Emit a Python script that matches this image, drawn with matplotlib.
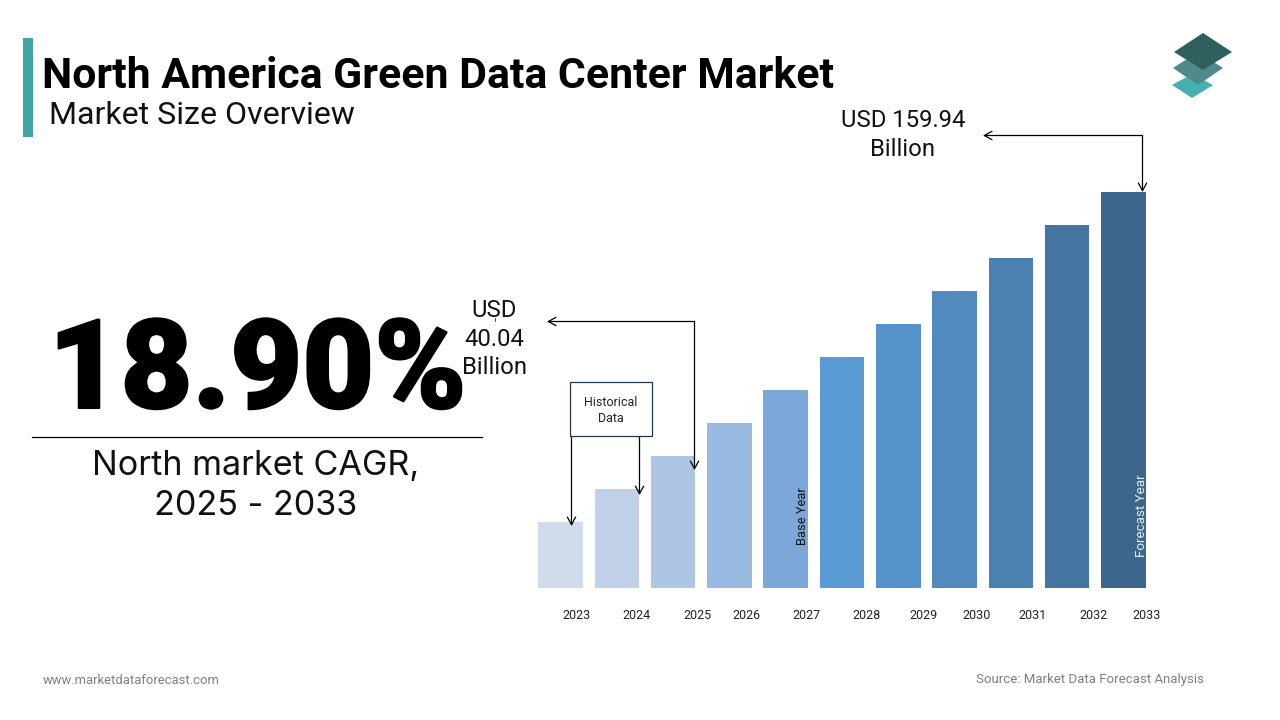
import matplotlib
matplotlib.use("Agg")
import matplotlib.pyplot as plt
import matplotlib.patheffects as pe
from matplotlib.patches import Polygon, Rectangle

W, H = 1280, 720
years = ["2023","2024","2025","2026","2027","2028","2029","2030","2031","2032","2033"]
# bar heights (the drawing is schematic, not to value scale)
bar_heights = [66, 99, 132, 165, 198, 231, 264, 297, 330, 363, 396]
bar_colors = ["#d0dcec","#bfd0e8","#adc6e3","#99bae0","#7ba8d8","#5b9bd5","#5793cb","#518bbd","#4b81b0","#4474a0","#3c668c"]
# the reference's year labels sit off-centre from their bars
tick_offsets = [0.293, 0.355, 0.431, 0.311, 0.373, 0.444, 0.44, 0.400, 0.391, 0.465, 0.417]

title = "North America Green Data Center Market"
subtitle = "Market Size Overview"
cagr = "18.90%"
cagr_label = "North market CAGR,\n2025 - 2033"
label_start = "USD\n40.04\nBillion"
label_end = "USD 159.94\nBillion"
FONT = "Roboto"
plt.rcParams["font.family"] = [FONT, "DejaVu Sans"]

fig = plt.figure(figsize=(W/100, H/100), dpi=100, facecolor="white")

# overlay in pixel coordinates
ov = fig.add_axes([0, 0, 1, 1], zorder=3)
ov.set_xlim(0, W); ov.set_ylim(H, 0); ov.axis("off"); ov.patch.set_alpha(0)

# bars
left_px, right_px, top_px, bottom_px = 532.35, 1151.65, 192, 588
ax = fig.add_axes([left_px/W, 1-bottom_px/H, (right_px-left_px)/W, (bottom_px-top_px)/H], zorder=1)
x = list(range(len(years)))
ax.bar(x, bar_heights, width=0.79, color=bar_colors, linewidth=0)
ax.set_xlim(-0.5, 10.5); ax.set_ylim(0, 396)
ax.set_xticks([i + o for i, o in zip(x, tick_offsets)])
ax.set_xticklabels(years, fontsize=9, color="#222222")
ax.tick_params(axis="x", length=0, pad=15)
ax.set_yticks([])
for s in ax.spines.values():
    s.set_visible(False)

# accent and headings
ov.add_patch(Rectangle((23, 38), 10, 99, color="#3fa6a6", lw=0))
ov.text(42, 77, title, fontsize=30.8, fontweight="bold", color="black", va="center", ha="left")
ov.text(49, 115, subtitle, fontsize=23.1, color="#111111", va="center", ha="left")

# logo
ov.add_patch(Polygon([(1192,74),(1213,85),(1192,98),(1172,85)], color="#45b0b0", lw=0))
ov.add_patch(Polygon([(1198,52),(1223,68),(1198,85),(1173,68)], color="#4f8a8b", lw=0))
ov.add_patch(Polygon([(1203,33),(1232,52),(1203,70),(1174,52)], color="#2f5f5f", lw=0))

# CAGR block
ov.text(257.5, 374, cagr, fontsize=89.5, fontweight="black", color="black", va="center", ha="center",
        path_effects=[pe.withStroke(linewidth=1.5, foreground="black")])
ov.plot([32, 482], [436.5, 436.5], color="black", lw=0.9)
ov.text(256, 486, cagr_label, fontsize=24.6, family=["Inter", "DejaVu Sans"], color="#111111", va="center", ha="center", linespacing=1.3)

# callouts
ov.text(494, 339, label_start, fontsize=17.2, color="#111111", va="center", ha="center", linespacing=1.33)
ov.text(903, 135, label_end, fontsize=17.2, color="#111111", va="center", ha="center", linespacing=1.3)
ov.plot([494.5, 494.5], [318, 321], color="#333333", lw=0.6)

arrow = dict(arrowstyle="->,head_length=0.55,head_width=0.3", color="black", lw=0.9, shrinkA=0, shrinkB=0)
ov.annotate("", xy=(547, 321.5), xytext=(694.5, 321.5), arrowprops=arrow)
ov.annotate("", xy=(694.5, 470), xytext=(694.5, 321.5), arrowprops=arrow)
ov.annotate("", xy=(983, 135.5), xytext=(1142.5, 135.5), arrowprops=arrow)
ov.annotate("", xy=(1142.5, 192), xytext=(1142.5, 135.5), arrowprops=arrow)

# historical data box
ov.add_patch(Rectangle((570, 382), 82, 54, fc="white", ec="#1f3550", lw=0.9, zorder=4))
ov.text(611, 410, "Historical\nData", fontsize=9, color="#222222", va="center", ha="center", linespacing=1.3, zorder=5)
ov.annotate("", xy=(571.5, 526), xytext=(571.5, 437), arrowprops=arrow)
ov.annotate("", xy=(639.5, 495), xytext=(639.5, 437), arrowprops=arrow)

# rotated notes
ov.text(803, 516, "Base Year", fontsize=9.3, rotation=90, color="#111111", va="center", ha="center")
ov.text(1141.5, 516, "Forecast Year", fontsize=9.6, rotation=90, color="#e8eef5", va="center", ha="center")

# footer
ov.text(43, 680, "www.marketdataforecast.com", fontsize=9.35, color="#7f7f7f", va="center", ha="left")
ov.text(1204, 680, "Source: Market Data Forecast Analysis", fontsize=9.5, color="#7f7f7f", va="center", ha="right")

fig.savefig("out.png", dpi=100, facecolor="white")
